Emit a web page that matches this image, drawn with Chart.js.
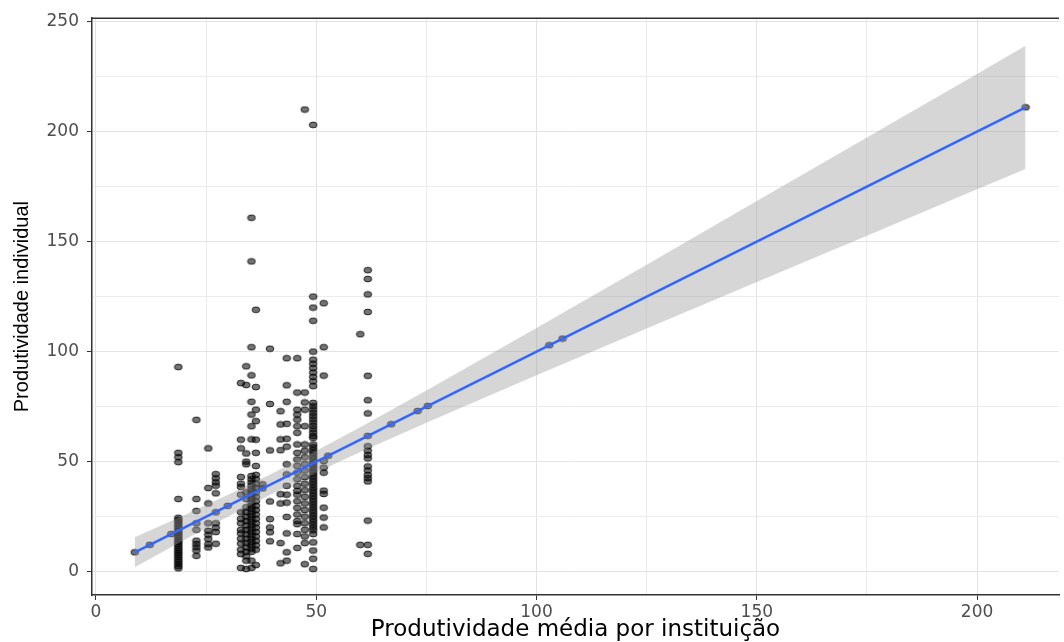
<!DOCTYPE html>
<html>
<head>
<meta charset="utf-8">
<title>Produtividade individual vs média por instituição</title>
<script src="https://cdn.jsdelivr.net/npm/chart.js@4.4.1/dist/chart.umd.min.js"></script>
<style>
  html, body { margin: 0; padding: 0; background: #ffffff; }
  #wrap { width: 1064px; height: 642px; }
</style>
</head>
<body>
<div id="wrap"><canvas id="scatterChart"></canvas></div>
<script>
// Institution mean (x) and the individual values measured at that mean (y)
const instMean = [8.8, 12.2, 17.1, 18.7, 22.8, 25.5, 27.2, 29.9, 32.9, 34.1, 35.3, 36.3, 37.8,
  39.5, 41.9, 43.3, 45.7, 47.4, 49.3, 51.7, 52.7, 60, 61.7, 67, 73, 75.3, 102.9, 105.9, 211];

const indivProd = [
  [8.8],
  [12.2],
  [17.1],
  [93, 54, 52, 49.8, 33, 24.5, 23.5, 22.5, 21.5, 20.5, 19.5, 18.5, 17.5, 16.5, 15.5, 14.5, 13.5,
   12.5, 11.5, 10.5, 9.5, 8.5, 7.5, 6.5, 5.5, 4.5, 3.5, 2.5, 1.5],
  [69, 33, 27.6, 22, 19, 14.1, 12.6, 11.1, 9.6, 7.2],
  [56, 38, 31, 22, 18.6, 16.8, 14.8, 12.5, 11],
  [44.3, 42.4, 40.6, 39.1, 35.6, 27, 22, 20, 18, 12.7],
  [29.9],
  [85.7, 60, 56, 43, 40, 38.5, 35, 27, 24, 22, 19, 17.4, 15, 12.8, 10, 8, 1.7],
  [93.3, 84.8, 53.7, 50, 48.8, 36, 33, 29.3, 27, 25, 23, 21, 19, 17, 15, 13, 11, 9, 7, 5, 1.2],
  [160.8, 141, 102, 89.2, 77.2, 71.4, 66.1, 60.1, 43.5, 42, 40.5, 39, 37.5, 36, 34.5, 33, 31.5, 30,
   28.5, 27, 25.5, 24, 22.5, 21, 19.5, 18, 16.5, 15, 13.5, 12, 10.5, 9, 5, 1.7],
  [119, 83.9, 73.6, 68.4, 60, 54, 48, 44, 42, 40, 38, 36, 34, 32, 30, 28, 26, 24, 22, 20, 18, 16,
   14, 12, 10, 3],
  [39.7, 37.8],
  [101.3, 76.2, 55.1, 31.9, 23.9, 20.1, 17.9, 13.8],
  [72.9, 66.9, 60.1, 55.2, 35.2, 31, 13, 3.8],
  [97, 84.7, 77.2, 67.2, 60.4, 56.8, 48.8, 44.2, 39, 35, 31.4, 24.9, 17.4, 8.8, 5],
  [97, 81.4, 73.6, 71.4, 69.1, 66.1, 63.1, 57.8, 54, 51, 48, 45, 42, 39, 36.7, 35, 32, 29, 26, 23,
   21.6, 17.1, 10.8],
  [210, 81.4, 76.9, 73.6, 66.1, 57.8, 55, 52, 49, 46, 43, 40, 37, 34, 31, 28, 25, 22, 19, 16, 13, 3.4],
  [203, 125, 120, 114, 100, 96.3, 94.5, 92.5, 90.5, 88.5, 86.5, 84.3, 76.7, 75.2, 73.7, 72.2, 70.7,
   69.2, 67.7, 66.2, 64.7, 63.2, 61.7, 60.8, 57.8, 56.5, 55.2, 53.9, 52.6, 51.3, 50, 48.7, 47.4,
   46.1, 44.8, 43.5, 42.2, 40.9, 39.6, 38.3, 37, 35.7, 34.4, 33.1, 31.8, 30.5, 29.2, 27.9, 26.6,
   25.3, 24, 22.7, 21.4, 20.1, 18.8, 17.1, 13.3, 9.6, 5.9, 1.2],
  [122, 102, 89.1, 50.3, 47.3, 45, 36.8, 35.3, 29.1, 24.6, 20.1],
  [52.7],
  [107.9, 12.2],
  [137, 133, 126, 118, 89, 77.9, 71.9, 61.7, 57, 55, 53, 51.5, 47.8, 46, 44, 42.5, 41, 23.2, 12.2, 8.1],
  [67],
  [73],
  [75.3],
  [102.9],
  [105.9],
  [211]
];

// Linear fit and its confidence band
const fitX = [8.8, 211];
const fitY = [8.8, 211];
const bandX = [8.8, 20, 30, 40, 50, 60, 75, 100, 125, 150, 175, 200, 211];
const bandLower = [2.0, 14.4, 25.1, 35.4, 45.1, 54.4, 67.7, 89.3, 110.5, 131.6, 152.7, 173.8, 183];
const bandUpper = [15.6, 25.6, 34.9, 44.6, 54.9, 65.6, 82.3, 110.7, 139.5, 168.4, 197.3, 226.2, 239];

// Axis labels
const xLabels = [0, 50, 100, 150, 200];
const yLabels = [0, 50, 100, 150, 200, 250];

window.onload = () => {
  renderScatter();
};

// Points are slightly wider than tall, like in the original export
function makeDot() {
  const c = document.createElement('canvas');
  c.width = 10;
  c.height = 8;
  const g = c.getContext('2d');
  g.beginPath();
  g.ellipse(5, 4, 3.9, 2.9, 0, 0, Math.PI * 2);
  g.fillStyle = 'rgba(0, 0, 0, 0.55)';
  g.fill();
  g.lineWidth = 1;
  g.strokeStyle = 'rgba(0, 0, 0, 0.75)';
  g.stroke();
  return c;
}

// Top edge of the panel
const panelTop = {
  id: 'panelTop',
  afterDraw(chart) {
    const { ctx, chartArea } = chart;
    ctx.save();
    ctx.strokeStyle = '#333333';
    ctx.lineWidth = 1.5;
    ctx.beginPath();
    ctx.moveTo(chartArea.left, chartArea.top);
    ctx.lineTo(chartArea.right, chartArea.top);
    ctx.stroke();
    ctx.restore();
  }
};

function renderScatter() {
  const points = [];
  instMean.forEach((x, i) => {
    indivProd[i].forEach(y => points.push({ x: x, y: y }));
  });
  const lower = bandX.map((x, i) => ({ x: x, y: bandLower[i] }));
  const upper = bandX.map((x, i) => ({ x: x, y: bandUpper[i] }));
  const fit = fitX.map((x, i) => ({ x: x, y: fitY[i] }));
  const dot = makeDot();

  const ctx = document.getElementById('scatterChart').getContext('2d');
  new Chart(ctx, {
    type: 'scatter',
    data: {
      datasets: [
        {
          label: 'Individual',
          data: points,
          pointStyle: dot,
          pointRadius: 4,
          order: 3
        },
        {
          label: 'lower',
          type: 'line',
          data: lower,
          borderWidth: 0,
          pointRadius: 0,
          fill: false,
          order: 2
        },
        {
          label: 'upper',
          type: 'line',
          data: upper,
          borderWidth: 0,
          pointRadius: 0,
          backgroundColor: 'rgba(153, 153, 153, 0.4)',
          fill: '-1',
          order: 1
        },
        {
          label: 'fit',
          type: 'line',
          data: fit,
          borderColor: '#3366ff',
          borderWidth: 2.5,
          pointRadius: 0,
          fill: false,
          order: 0
        }
      ]
    },
    options: {
      responsive: true,
      maintainAspectRatio: false,
      animation: false,
      layout: { padding: { top: 16, right: 0, bottom: 0, left: 0 } },
      plugins: {
        legend: { display: false },
        tooltip: { enabled: false }
      },
      scales: {
        x: {
          type: 'linear',
          min: -0.9,
          max: 218.6,
          afterFit: s => { s.height = 47; },
          border: { color: '#333333', width: 1.5 },
          grid: {
            color: c => xLabels.includes(c.tick.value) ? '#e3e3e3' : '#ececec',
            tickColor: c => xLabels.includes(c.tick.value) ? '#333333' : 'rgba(0,0,0,0)',
            tickLength: 5
          },
          ticks: {
            stepSize: 25,
            includeBounds: false,
            autoSkip: false,
            maxRotation: 0,
            padding: 2,
            color: '#4d4d4d',
            font: { family: 'DejaVu Sans', size: 17 },
            callback: v => xLabels.includes(v) ? String(v) : ''
          },
          title: {
            display: true,
            text: 'Produtividade média por instituição',
            color: '#000000',
            font: { family: 'DejaVu Sans', size: 23 },
            padding: { top: 0, bottom: -2 }
          }
        },
        y: {
          type: 'linear',
          min: -10.6,
          max: 251.5,
          afterFit: s => { s.width = 92; },
          border: { color: '#333333', width: 1.5 },
          grid: {
            color: c => yLabels.includes(c.tick.value) ? '#e3e3e3' : '#ececec',
            tickColor: c => yLabels.includes(c.tick.value) ? '#333333' : 'rgba(0,0,0,0)',
            tickLength: 5
          },
          ticks: {
            stepSize: 25,
            includeBounds: false,
            autoSkip: false,
            padding: 8,
            color: '#4d4d4d',
            font: { family: 'DejaVu Sans', size: 17 },
            callback: v => yLabels.includes(v) ? String(v) : ''
          },
          title: {
            display: true,
            text: 'Produtividade individual',
            color: '#000000',
            font: { family: 'Liberation Sans', size: 20 },
            padding: { top: 10, bottom: 0 }
          }
        }
      }
    },
    plugins: [panelTop]
  });
}
</script>
</body>
</html>
